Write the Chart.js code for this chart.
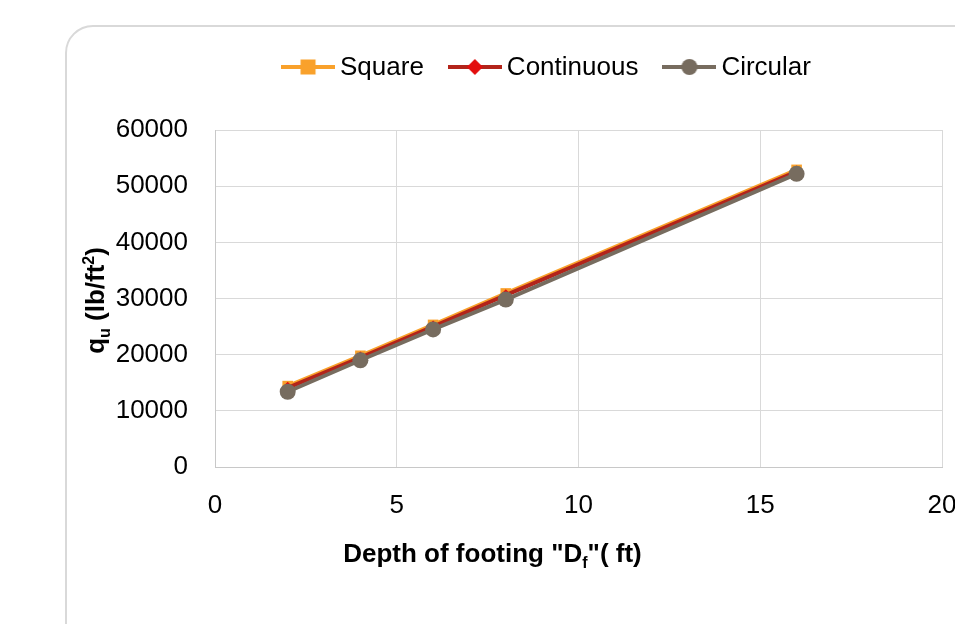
<!DOCTYPE html>
<html>
<head>
<meta charset="utf-8">
<title>Ultimate bearing capacity vs depth of footing</title>
<script src="https://cdn.jsdelivr.net/npm/chart.js@4.4.1/dist/chart.umd.min.js"></script>
<style>
    html, body { margin: 0; padding: 0; background: #fff; overflow: hidden; }
    body { width: 955px; height: 624px; position: relative; }
    .card {
        position: absolute; left: 65px; top: 25px;
        width: 1000px; height: 700px;
        border: 2px solid #d9d9d9; border-radius: 28px;
        box-sizing: border-box;
    }
    #chart { position: absolute; left: 0; top: 0; }
</style>
</head>
<body>
<div class="card"></div>
<canvas id="chart" width="1000" height="624"></canvas>
<script>
"use strict";

// depth of footing Df (ft)
const depthFt = [2, 4, 6, 8, 16];
// ultimate bearing capacity qu (lb/ft²) per footing shape
const squareQu = [14400, 19800, 25300, 30900, 52900];
const continuousQu = [14100, 19500, 25000, 30600, 52600];
const circularQu = [13400, 19000, 24500, 29800, 52200];
const seriesNames = ["Square", "Continuous", "Circular"];

const xTicks = [0, 5, 10, 15, 20];
const yTicks = [0, 10000, 20000, 30000, 40000, 50000, 60000];

const FONT = "'Liberation Sans', Arial, sans-serif";
const FONT_SIZE = 26;

/**
 * Small line-with-marker icon shown in front of each legend label.
 */
function legendIcon(lineColor, markerColor, marker) {
    const c = document.createElement("canvas");
    c.width = 54;
    c.height = 20;
    const ctx = c.getContext("2d");
    ctx.strokeStyle = lineColor;
    ctx.lineWidth = 4;
    ctx.beginPath();
    ctx.moveTo(0, 10);
    ctx.lineTo(54, 10);
    ctx.stroke();
    ctx.fillStyle = markerColor;
    const cx = 27, cy = 10;
    if (marker === "rect") {
        ctx.fillRect(cx - 7.5, cy - 7.5, 15, 15);
    } else if (marker === "rectRot") {
        ctx.beginPath();
        ctx.moveTo(cx, cy - 8);
        ctx.lineTo(cx + 8, cy);
        ctx.lineTo(cx, cy + 8);
        ctx.lineTo(cx - 8, cy);
        ctx.closePath();
        ctx.fill();
    } else {
        ctx.beginPath();
        ctx.arc(cx, cy, 8, 0, Math.PI * 2);
        ctx.fill();
    }
    return c;
}

function toPoints(values) {
    return values.map(function (v, i) { return { x: depthFt[i], y: v }; });
}

/**
 * Draws a string made of parts, some of them sub- or superscript,
 * centred on the current origin.
 */
function drawRich(ctx, parts, size) {
    const small = Math.round(size * 0.62);
    const widths = parts.map(function (p) {
        ctx.font = "bold " + (p.s ? small : size) + "px " + FONT;
        return ctx.measureText(p.t).width;
    });
    const total = widths.reduce(function (a, b) { return a + b; }, 0);
    let x = -total / 2;
    ctx.textBaseline = "alphabetic";
    ctx.textAlign = "left";
    parts.forEach(function (p, i) {
        ctx.font = "bold " + (p.s ? small : size) + "px " + FONT;
        let dy = 0;
        if (p.s === "sub") { dy = size * 0.22; }
        if (p.s === "sup") { dy = -size * 0.38; }
        ctx.fillText(p.t, x, size * 0.36 + dy);
        x += widths[i];
    });
}

// axis titles with sub/superscripts, which the built-in titles can't do
const axisTitles = {
    id: "axisTitles",
    afterDraw: function (chart) {
        const ctx = chart.ctx;
        const area = chart.chartArea;
        ctx.save();
        ctx.fillStyle = "#000";
        ctx.translate((area.left + area.right) / 2 - 86, 553);
        drawRich(ctx, [
            { t: "Depth of footing \"D" },
            { t: "f", s: "sub" },
            { t: "\"( ft)" }
        ], 26);
        ctx.restore();

        ctx.save();
        ctx.fillStyle = "#000";
        ctx.translate(95, (area.top + area.bottom) / 2 + 2);
        ctx.rotate(-Math.PI / 2);
        drawRich(ctx, [
            { t: "q" },
            { t: "u", s: "sub" },
            { t: " (lb/ft" },
            { t: "2", s: "sup" },
            { t: ")" }
        ], 26);
        ctx.restore();
    }
};

// one-row legend: line-with-marker icon, then the series name
const lineLegend = {
    id: "lineLegend",
    afterDraw: function (chart, args, opts) {
        const ctx = chart.ctx;
        const datasets = chart.data.datasets;
        ctx.save();
        ctx.font = FONT_SIZE + "px " + FONT;
        ctx.fillStyle = "#000";
        ctx.textBaseline = "middle";
        ctx.textAlign = "left";
        const widths = datasets.map(function (ds) {
            return opts.iconWidth + opts.textGap + ctx.measureText(ds.label).width;
        });
        const total = widths.reduce(function (a, b) { return a + b; }, 0) + opts.itemGap * (datasets.length - 1);
        let x = opts.centerX - total / 2;
        datasets.forEach(function (ds, i) {
            ctx.drawImage(ds.legendIcon, x, opts.y - 10);
            ctx.fillText(ds.label, x + opts.iconWidth + opts.textGap, opts.y + 1);
            x += widths[i] + opts.itemGap;
        });
        ctx.restore();
    }
};

const config = {
    type: "line",
    data: {
        datasets: [{
            label: seriesNames[0],
            data: toPoints(squareQu),
            borderColor: "#f9a12b",
            backgroundColor: "#f9a12b",
            borderWidth: 4,
            pointStyle: "rect",
            pointRadius: 7.5,
            pointBorderWidth: 0,
            order: 2,
            legendIcon: legendIcon("#f9a12b", "#f9a12b", "rect")
        }, {
            label: seriesNames[1],
            data: toPoints(continuousQu),
            borderColor: "#b3241a",
            backgroundColor: "#e30d0d",
            borderWidth: 4,
            pointStyle: "rectRot",
            pointRadius: 6,
            pointBorderWidth: 0,
            order: 1,
            legendIcon: legendIcon("#b3241a", "#e30d0d", "rectRot")
        }, {
            label: seriesNames[2],
            data: toPoints(circularQu),
            borderColor: "#776c5f",
            backgroundColor: "#776c5f",
            borderWidth: 4,
            pointStyle: "circle",
            pointRadius: 8,
            pointBorderWidth: 0,
            order: 0,
            legendIcon: legendIcon("#776c5f", "#776c5f", "circle")
        }]
    },
    plugins: [axisTitles, lineLegend],
    options: {
        responsive: false,
        animation: false,
        layout: {
            padding: { left: 0, right: 58, top: 130, bottom: 0 }
        },
        plugins: {
            tooltip: { enabled: false },
            legend: { display: false },
            lineLegend: { centerX: 546, y: 67, iconWidth: 54, textGap: 5, itemGap: 24 }
        },
        scales: {
            x: {
                type: "linear",
                min: 0,
                max: 20,
                afterBuildTicks: function (scale) {
                    scale.ticks = xTicks.map(function (v) { return { value: v }; });
                },
                afterFit: function (scale) { scale.height = 157; },
                grid: { color: "#d9d9d9", lineWidth: 1, drawTicks: false },
                border: { color: "#c8c8c8", width: 1 },
                ticks: {
                    color: "#000",
                    padding: 23,
                    font: { family: FONT, size: FONT_SIZE }
                }
            },
            y: {
                min: 0,
                max: 60000,
                afterBuildTicks: function (scale) {
                    scale.ticks = yTicks.map(function (v) { return { value: v }; });
                },
                afterFit: function (scale) { scale.width = 215; },
                grid: { color: "#d9d9d9", lineWidth: 1, drawTicks: false },
                border: { color: "#c8c8c8", width: 1 },
                ticks: {
                    color: "#000",
                    padding: 27,
                    font: { family: FONT, size: FONT_SIZE },
                    callback: function (v) { return String(v); }
                }
            }
        }
    }
};

new Chart(document.getElementById("chart"), config);
</script>
</body>
</html>
